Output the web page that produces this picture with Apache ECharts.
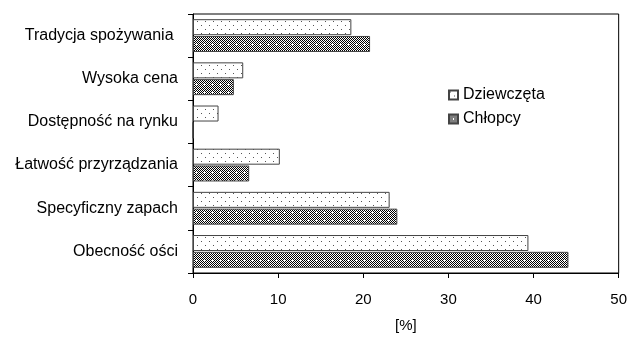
<!DOCTYPE html>
<html>
<head>
<meta charset="utf-8">
<script src="https://cdn.jsdelivr.net/npm/echarts@6/dist/echarts.min.js"></script>
<style>
  html, body { margin: 0; padding: 0; background: #fff; }
  #chart { width: 630px; height: 338px; }
</style>
</head>
<body>
<div id="chart"></div>
<script>
// dane z wykresu
const categories = ['Tradycja spożywania ', 'Wysoka cena', 'Dostępność na rynku', 'Łatwość przyrządzania', 'Specyficzny zapach', 'Obecność ości'];
const dziewczeta = [18.6, 5.9, 3.0, 10.2, 23.1, 39.4];
const chlopcy = [20.8, 4.8, 0, 6.6, 24.0, 44.1];
const xTicks = [0, 10, 20, 30, 40, 50];

// wzor kropkowany (dziewczeta)
function dotPattern() {
  const c = document.createElement('canvas');
  c.width = 8; c.height = 8;
  const ctx = c.getContext('2d');
  ctx.fillStyle = '#fff';
  ctx.fillRect(0, 0, 8, 8);
  ctx.fillStyle = '#555';
  ctx.fillRect(1, 1, 1, 1);
  ctx.fillRect(5, 5, 1, 1);
  return c;
}

// wzor krata (chlopcy)
function checkPattern() {
  const c = document.createElement('canvas');
  c.width = 8; c.height = 8;
  const ctx = c.getContext('2d');
  ctx.fillStyle = '#fff';
  ctx.fillRect(0, 0, 8, 8);
  ctx.fillStyle = '#000';
  for (let y = 0; y < 8; y++) {
    for (let x = 0; x < 8; x++) {
      if ((x + y) % 2 === 0) ctx.fillRect(x, y, 1, 1);
    }
  }
  ctx.fillStyle = '#fff';
  ctx.fillRect(3, 4, 3, 1);
  ctx.fillRect(4, 3, 1, 3);
  return c;
}

const chart = echarts.init(document.getElementById('chart'));
const font = 'Liberation Sans, Arial, sans-serif';

chart.setOption({
  animation: false,
  textStyle: { fontFamily: font },
  grid: { left: 193, right: 10, top: 14, bottom: 63, show: true, borderColor: '#000', borderWidth: 1 },
  legend: {
    orient: 'vertical',
    left: 443,
    top: 82,
    itemWidth: 9,
    itemHeight: 9,
    itemGap: 8,
    icon: 'rect',
    textStyle: { fontSize: 16, color: '#000', fontFamily: font },
    data: ['Dziewczęta', 'Chłopcy']
  },
  xAxis: {
    type: 'value',
    min: xTicks[0],
    max: xTicks[xTicks.length - 1],
    interval: 10,
    name: '[%]',
    nameLocation: 'middle',
    nameGap: 45,
    nameTextStyle: { fontSize: 15, color: '#000' },
    axisLine: { show: true, lineStyle: { color: '#000', width: 1 } },
    axisTick: { show: true, length: 5, lineStyle: { color: '#000' } },
    axisLabel: { fontSize: 15, color: '#000', margin: 19 },
    splitLine: { show: false }
  },
  yAxis: {
    type: 'category',
    inverse: true,
    data: categories,
    axisLine: { show: true, lineStyle: { color: '#000', width: 1 } },
    axisTick: { show: true, length: 5, lineStyle: { color: '#000' } },
    axisLabel: { fontSize: 16, color: '#000', margin: 15 }
  },
  series: [
    {
      name: 'Dziewczęta',
      type: 'bar',
      data: dziewczeta,
      barWidth: 16,
      barGap: '5%',
      itemStyle: { color: { image: dotPattern(), repeat: 'repeat' }, borderColor: '#444', borderWidth: 1 }
    },
    {
      name: 'Chłopcy',
      type: 'bar',
      data: chlopcy,
      barWidth: 16,
      itemStyle: { color: { image: checkPattern(), repeat: 'repeat' }, borderColor: '#444', borderWidth: 1 }
    }
  ]
});
</script>
</body>
</html>
